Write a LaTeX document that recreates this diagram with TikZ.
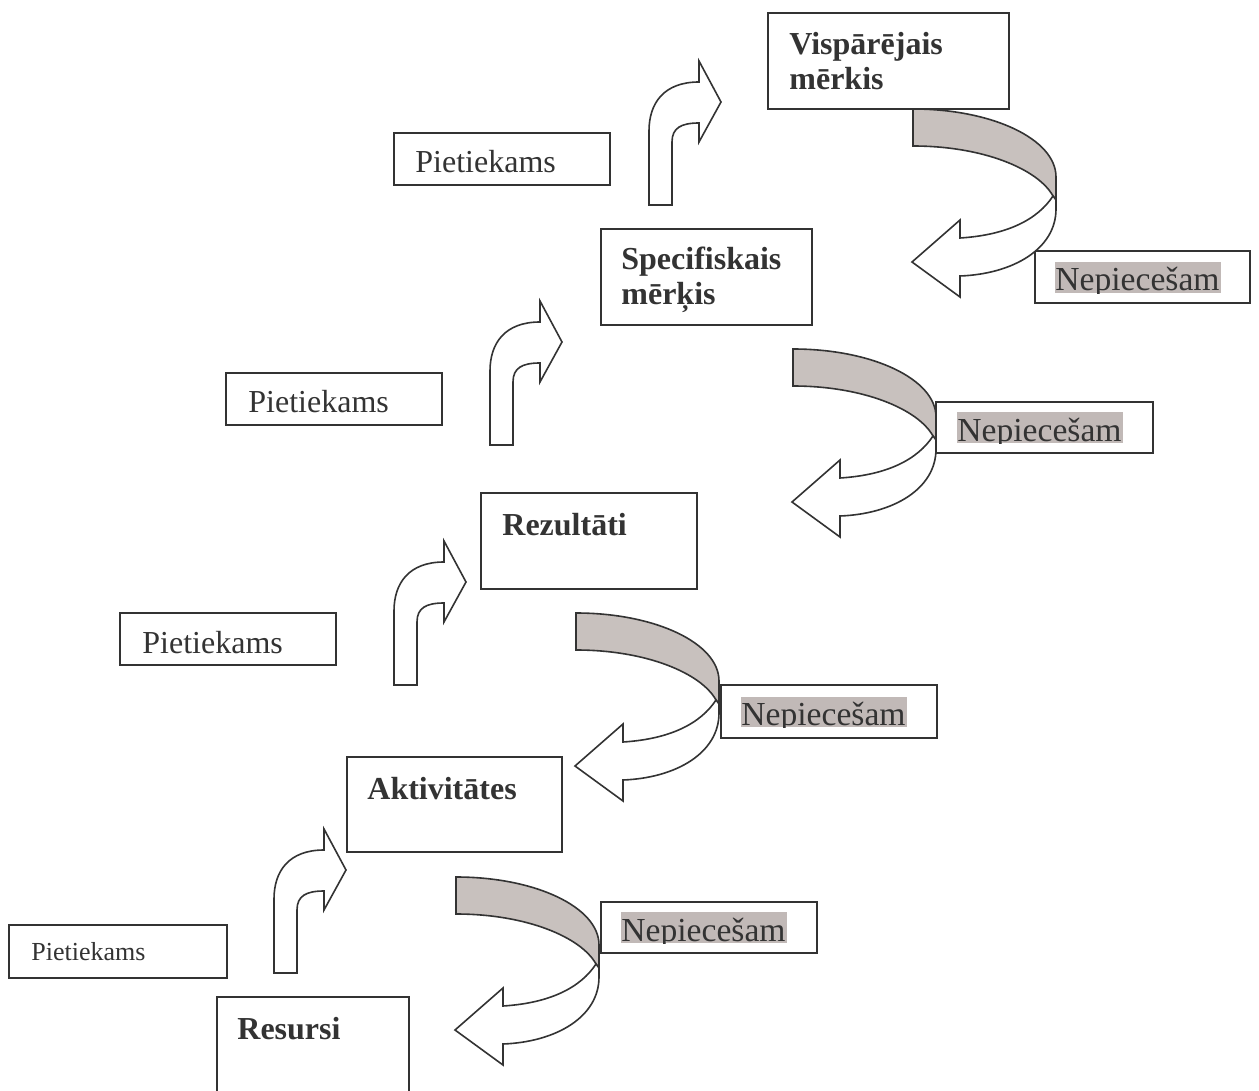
\documentclass[tikz,border=0pt]{standalone}
\usepackage{fontspec}
\setmainfont{Liberation Serif}
\usetikzlibrary{fit}
\definecolor{ink}{HTML}{333333}
\definecolor{ribbongrey}{RGB}{200,193,190}
\definecolor{hlgrey}{RGB}{193,185,183}
\tikzset{
  box/.style={draw=ink, line width=1pt, fill=white, inner sep=0pt},
  hlbox/.style={fill=hlgrey, draw=none, inner sep=0pt},
  lbl/.style={anchor=base west, inner sep=0pt, text=ink, font=\fontsize{16}{19}\selectfont},
  needlbl/.style={lbl, font=\fontsize{16.8}{19}\selectfont},
  title/.style={lbl, font=\fontsize{16}{19}\selectfont\bfseries},
  arr/.style={draw=ink, line width=0.8pt, line join=miter},
  bentup/.pic={
    \draw[arr, fill=white] (0,0) -- (23,0) -- (23,-63)
      .. controls (23,-77) and (32,-82) .. (50,-82) -- (50,-63) -- (72,-103)
      -- (50,-144) -- (50,-123) .. controls (15,-123) and (0,-102) .. (0,-74) -- cycle;
  },
  curvedown/.pic={
    \draw[arr, fill=ribbongrey] (0,0) .. controls (79,0) and (143,30) .. (143,68)
      -- (143,91) -- (140,87) .. controls (125,60) and (70,37) .. (0,37) -- cycle;
    \draw[arr, fill=white] (140,87) .. controls (125,110) and (95,126) .. (47,129)
      -- (47,111) -- (-1,153) -- (47,188) -- (47,167)
      .. controls (100,165) and (143,140) .. (143,100) -- (143,91) -- cycle;
  },
}
\begin{document}
\begin{tikzpicture}[x=0.5pt,y=-0.5pt]
\clip (0,0) rectangle (1259,1091);
\fill[white] (0,0) rectangle (1259,1091);

% main boxes
\node[box, fit={(768,13) (1009,109)}] (vm) {};
\node[box, fit={(601,229) (812,325)}] (sm) {};
\node[box, fit={(481,493) (697,589)}] (rez) {};
\node[box, fit={(347,757) (562,852)}] (akt) {};
\node[box, fit={(217,997) (409,1120)}] (res) {};

% Pietiekams boxes
\node[box, fit={(394,133) (610,185)}] (p1) {};
\node[box, fit={(226,373) (442,425)}] (p2) {};
\node[box, fit={(120,613) (336,665)}] (p3) {};
\node[box, fit={(9,925) (227,978)}] (p4) {};

% Nepiecesam boxes
\node[box, fit={(1035,251) (1250,303)}] (n1) {};
\node[box, fit={(936,402) (1153,453)}] (n2) {};
\node[box, fit={(721,685) (937,738)}] (n3) {};
\node[box, fit={(601,902) (817,953)}] (n4) {};

% arrows
\pic at (649,205) {bentup};
\pic at (490,445) {bentup};
\pic at (394,685) {bentup};
\pic at (274,973) {bentup};
\pic at (913,109) {curvedown};
\pic at (793,349) {curvedown};
\pic at (576,613) {curvedown};
\pic at (456,877) {curvedown};

% titles
\node[title] (vmt1) at (789,55) {Vispārējais};
\node[title] (vmt2) at (789,90) {mērkis};
\node[title] (smt1) at (621,270) {Specifiskais};
\node[title] (smt2) at (621,305) {mērķis};
\node[title] (rezt) at (502,535) {Rezultāti};
\node[title] (aktt) at (367,799) {Aktivitātes};
\node[title] (rest) at (237,1039) {Resursi};

% Pietiekams labels
\node[lbl] (p1t) at (415,173) {Pietiekams};
\node[lbl] (p2t) at (248,413) {Pietiekams};
\node[lbl] (p3t) at (142,653) {Pietiekams};
\node[lbl, font=\fontsize{13}{15}\selectfont] (p4t) at (31,960) {Pietiekams};

% Nepiecesam highlighted labels
\node[hlbox, fit={(1055,262) (1221,293)}] (n1h) {};
\node[hlbox, fit={(957,412) (1123,443)}] (n2h) {};
\node[hlbox, fit={(741,697) (907,727)}] (n3h) {};
\node[hlbox, fit={(621,912) (787,943)}] (n4h) {};
\begin{scope}
  \clip (n1h.south west) rectangle (n1h.north east);
  \node[needlbl] (n1t) at (1055,291) {Nepiecešam};
\end{scope}
\begin{scope}
  \clip (n2h.south west) rectangle (n2h.north east);
  \node[needlbl] (n2t) at (957,441) {Nepiecešam};
\end{scope}
\begin{scope}
  \clip (n3h.south west) rectangle (n3h.north east);
  \node[needlbl] (n3t) at (741,725) {Nepiecešam};
\end{scope}
\begin{scope}
  \clip (n4h.south west) rectangle (n4h.north east);
  \node[needlbl] (n4t) at (621,941) {Nepiecešam};
\end{scope}
\end{tikzpicture}
\end{document}
